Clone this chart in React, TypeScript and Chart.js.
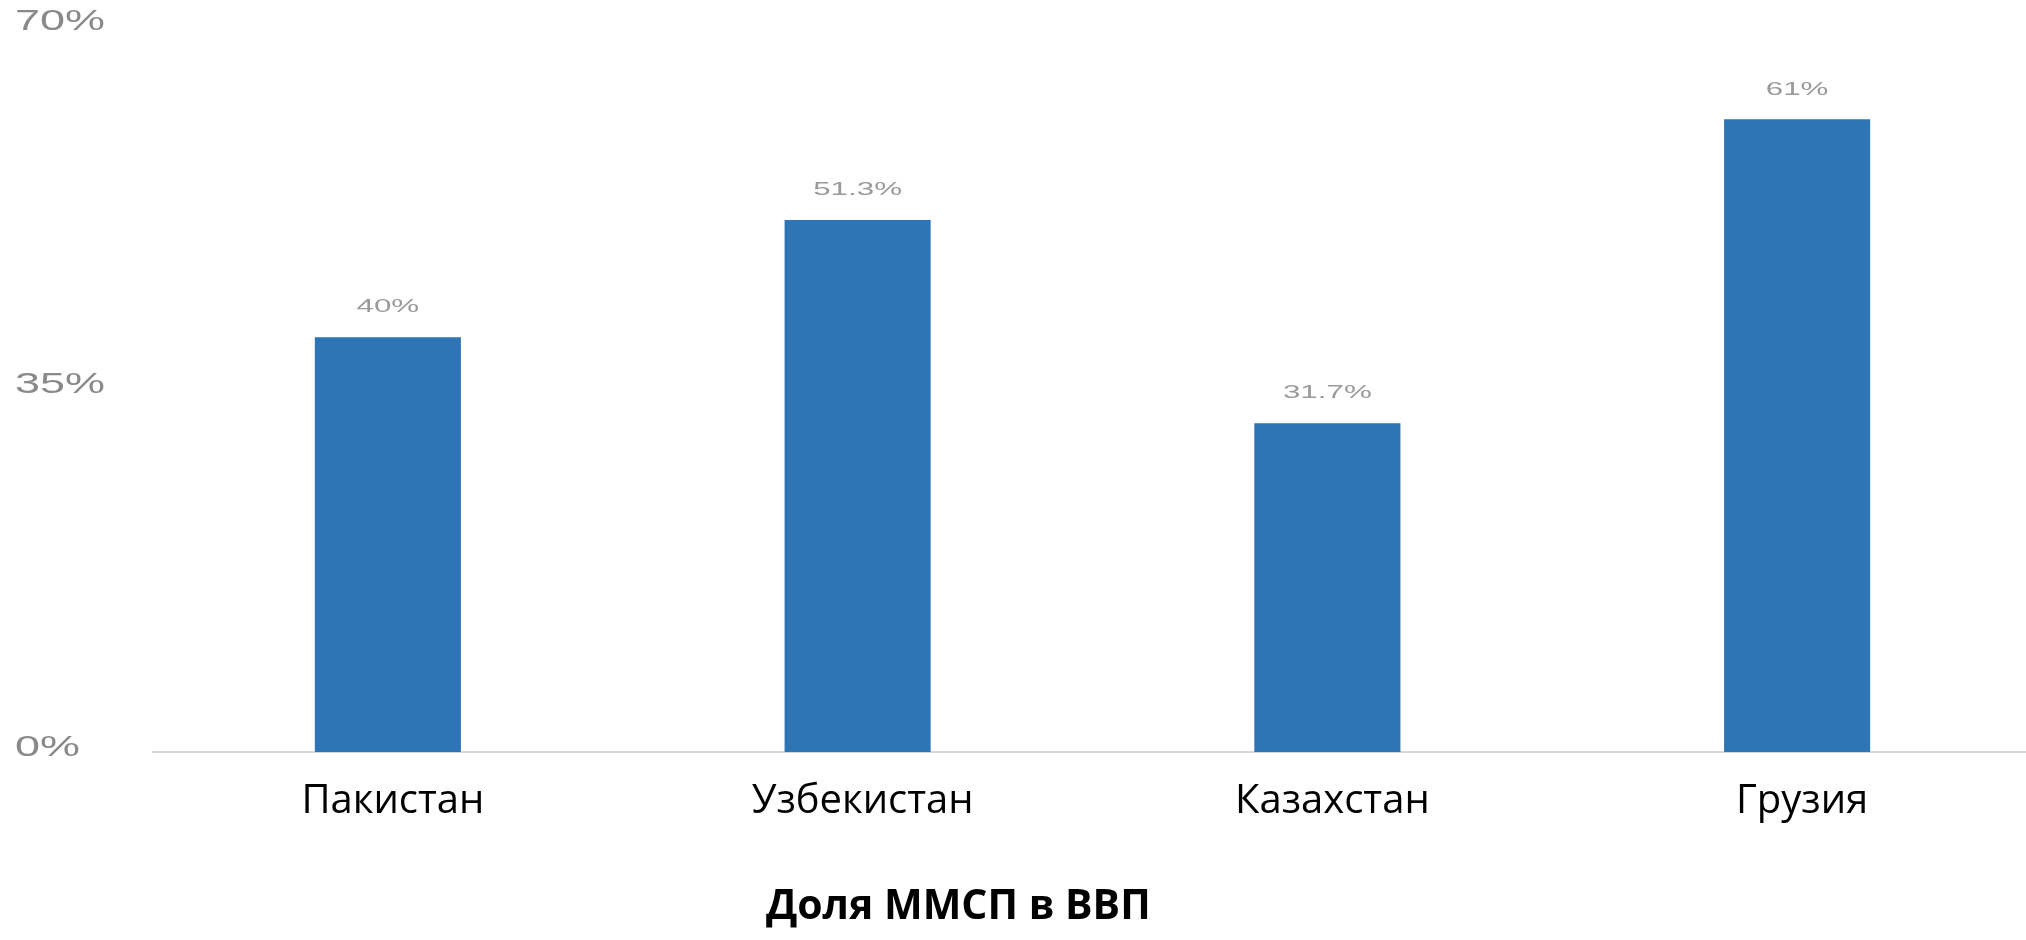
import React, { useEffect, useRef } from "react";
import { Chart, registerables } from "chart.js";

Chart.register(...registerables);

const categories = ["Пакистан", "Узбекистан", "Казахстан", "Грузия"];
const values = [40, 51.3, 31.7, 61];
const valueLabels = ["40%", "51.3%", "31.7%", "61%"];
const yTicks = [0, 35, 70];
const chartTitle = "Доля ММСП в ВВП";

const BAR_COLOR = "#2E75B6";

export default function App() {
  const canvasRef = useRef<HTMLCanvasElement | null>(null);

  useEffect(() => {
    const canvas = canvasRef.current;
    if (!canvas) return;

    const overlay = {
      id: "overlay",
      afterLayout(chart: any) {
        // the plot runs slightly past the right edge of the canvas
        const xs = chart.scales.x;
        xs.right += 6;
        xs.width += 6;
        xs.configure();
      },
      afterDraw(chart: any) {
        const ctx = chart.ctx;
        const yScale = chart.scales.y;
        // y tick labels (stretched, grey)
        ctx.save();
        ctx.fillStyle = "#8a8a8a";
        ctx.font = "29px 'Liberation Sans'";
        ctx.textBaseline = "middle";
        ctx.textAlign = "left";
        yTicks.forEach((t) => {
          const y = yScale.getPixelForValue(t) - 4;
          ctx.save();
          ctx.translate(15, y);
          ctx.scale(1.55, 1);
          ctx.fillText(t + "%", 0, 0);
          ctx.restore();
        });
        ctx.restore();

        // data labels
        const meta = chart.getDatasetMeta(0);
        ctx.save();
        ctx.fillStyle = "#9a9a9a";
        ctx.font = "19px 'Liberation Sans'";
        ctx.textBaseline = "middle";
        ctx.textAlign = "center";
        meta.data.forEach((bar: any, i: number) => {
          ctx.save();
          ctx.translate(bar.x, bar.y - 30);
          ctx.scale(1.65, 1);
          ctx.fillText(valueLabels[i], 0, 0);
          ctx.restore();
        });
        ctx.restore();

        // title at bottom
        ctx.save();
        ctx.fillStyle = "#000000";
        ctx.font = "bold 41px 'Open Sans'";
        ctx.textAlign = "center";
        ctx.textBaseline = "alphabetic";
        ctx.fillText(chartTitle, chart.width * 0.473, chart.height - 21);
        ctx.restore();
      },
    };

    const chart = new Chart(canvas, {
      type: "bar",
      data: {
        labels: categories,
        datasets: [
          {
            data: values,
            backgroundColor: BAR_COLOR,
            borderWidth: 0,
            categoryPercentage: 1,
            barPercentage: 0.311,
          },
        ],
      },
      options: {
        responsive: false,
        animation: false,
        layout: { padding: { left: 16, right: 0, top: 26, bottom: 0 } },
        plugins: {
          legend: { display: false },
          title: { display: false },
          tooltip: { enabled: false },
        },
        scales: {
          x: {
            grid: { display: false, drawTicks: false },
            border: { display: true, color: "#d9d9d9", width: 2 },
            ticks: {
              color: "#000000",
              padding: 26,
              labelOffset: 5,
              font: { family: "'Open Sans'", size: 40 },
              maxRotation: 0,
              autoSkip: false,
            },
            afterFit(scale: any) {
              scale.height = 188;
            },
          },
          y: {
            min: 0,
            max: 70,
            ticks: { display: false, stepSize: 35 },
            grid: { display: false, drawTicks: false },
            border: { display: false },
            afterFit(scale: any) {
              scale.width = 137;
            },
          },
        },
      },
      plugins: [overlay],
    });

    return () => {
      chart.destroy();
    };
  }, []);

  return (
    <div style={{ position: "absolute", left: 0, top: 0, width: 2026, height: 940, background: "#ffffff" }}>
      <canvas ref={canvasRef} width={2026} height={940} style={{ width: 2026, height: 940, display: "block" }} />
    </div>
  );
}
